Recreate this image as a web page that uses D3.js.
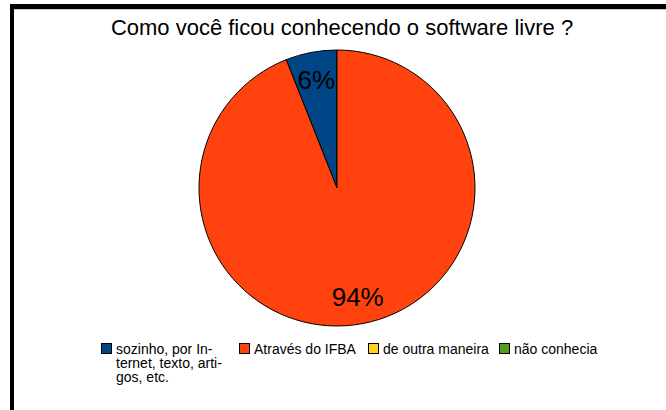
<!DOCTYPE html>
<html>
<head>
<meta charset="utf-8">
<script src="https://cdn.jsdelivr.net/npm/d3@7"></script>
<style>
  body { margin: 0; background: #fff; }
  svg { display: block; font-family: "Liberation Sans", Arial, sans-serif; }
</style>
</head>
<body>
<div id="chart"></div>
<script>
var width = 666, height = 410;

var title = "Como você ficou conhecendo o software livre ?";
var categories = ["sozinho, por In-|ternet, texto, arti-|gos, etc.", "Através do IFBA", "de outra maneira", "não conhecia"];
var values = [6, 94, 0, 0];
var colors = ["#004586", "#ff420e", "#ffd320", "#579d1c"];
var legend_x = [101, 239, 368, 499];

var svg = d3.select("#chart").append("svg")
  .attr("width", width)
  .attr("height", height);

// frame
svg.append("rect").attr("x", 0).attr("y", 0).attr("width", width).attr("height", height).attr("fill", "#fff");
svg.append("line").attr("x1", 14).attr("x2", width).attr("y1", 9.5).attr("y2", 9.5)
  .attr("stroke", "#ccc").attr("stroke-width", 1);
svg.append("rect").attr("x", 10).attr("y", 4).attr("width", width - 10).attr("height", 5).attr("fill", "#000");
svg.append("rect").attr("x", 10).attr("y", 4).attr("width", 4).attr("height", height - 4).attr("fill", "#000");

svg.append("text")
  .attr("x", 342).attr("y", 35)
  .attr("text-anchor", "middle")
  .attr("font-size", "22px")
  .attr("fill", "#000")
  .text(title);

var cx = 337, cy = 188, r = 138;
var data = categories.map(function(c, i){ return {label: c, value: values[i], color: colors[i]}; });
var total = d3.sum(values);

var pie = d3.pie().value(function(d){ return d.value; }).sort(null)
  .startAngle(-values[0] / total * 2 * Math.PI)
  .endAngle(2 * Math.PI - values[0] / total * 2 * Math.PI);
var arc = d3.arc().innerRadius(0).outerRadius(r);
var labelArc = d3.arc().innerRadius(r * 0.8).outerRadius(r * 0.8);

var g = svg.append("g").attr("transform", "translate(" + cx + "," + cy + ")");
var arcs = pie(data).filter(function(d){ return d.value > 0; });

g.selectAll("path")
  .data(arcs)
  .enter()
  .append("path")
    .attr("d", arc)
    .attr("fill", function(d){ return d.data.color; })
    .attr("stroke", "#000")
    .attr("stroke-width", 1);

g.selectAll("text.pct")
  .data(arcs)
  .enter()
  .append("text")
    .attr("class", "pct")
    .attr("transform", function(d){
      var c = labelArc.centroid(d);
      return "translate(" + c[0] + "," + c[1] + ")";
    })
    .attr("dy", "0.35em")
    .attr("text-anchor", "middle")
    .attr("font-size", "26px")
    .attr("fill", "#000")
    .text(function(d){ return Math.round(d.value / total * 100) + "%"; });

// legend
var legend = svg.append("g").selectAll("g")
  .data(data)
  .enter()
  .append("g")
    .attr("transform", function(d, i){ return "translate(" + legend_x[i] + ",343)"; });
legend.append("rect")
  .attr("x", 0.5).attr("y", 0.5).attr("width", 10).attr("height", 10)
  .attr("fill", function(d){ return d.color; })
  .attr("stroke", "#000").attr("stroke-width", 1);
legend.append("text")
  .attr("x", 15).attr("y", 11)
  .attr("font-size", "14px")
  .attr("fill", "#000")
  .selectAll("tspan")
  .data(function(d){ return d.label.split("|"); })
  .enter()
  .append("tspan")
    .attr("x", 15)
    .attr("dy", function(d, i){ return i === 0 ? 0 : 14; })
    .text(function(d){ return d; });
</script>
</body>
</html>
